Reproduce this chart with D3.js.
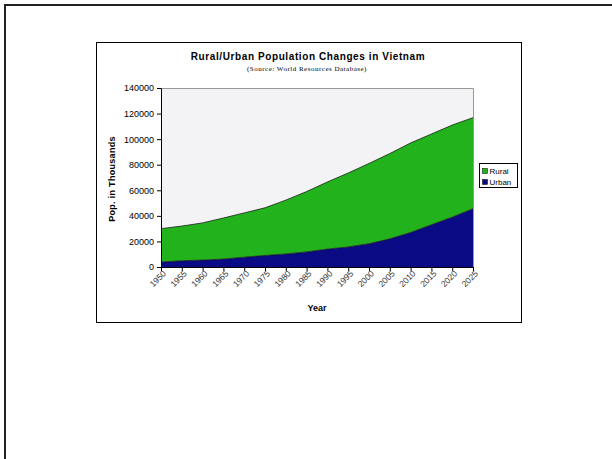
<!DOCTYPE html>
<html>
<head>
<meta charset="utf-8">
<script src="https://cdn.jsdelivr.net/npm/d3@7"></script>
<style>
  body { margin: 0; background: #fff; }
  svg { display: block; font-family: "Liberation Sans", Arial, sans-serif; }
</style>
</head>
<body>
<svg id="chart" width="612" height="459"></svg>
<script>
// values, thousands of people
const years = [1950, 1955, 1960, 1965, 1970, 1975, 1980, 1985, 1990, 1995, 2000, 2005, 2010, 2015, 2020, 2025];
const urban = [3900, 4900, 5400, 6200, 7700, 9000, 10200, 11800, 14000, 15700, 18200, 22000, 27000, 33000, 39000, 45600];
const total = [30000, 32000, 34500, 38300, 42300, 46300, 52300, 59000, 66500, 73500, 81000, 88700, 97000, 104000, 111000, 116800];
const rural = total.map((t, i) => t - urban[i]);
const yTicks = [0, 20000, 40000, 60000, 80000, 100000, 120000, 140000];
const seriesNames = ['Rural', 'Urban'];
const seriesColors = { Rural: '#22b31c', Urban: '#0a0a84' };

const svg = d3.select('#chart');

const DIM = { left: 161, right: 473, top: 88, bottom: 267 };

// page frame (top and left edges only)
svg.append('line').attr('x1', 4).attr('x2', 612).attr('y1', 5).attr('y2', 5)
  .attr('stroke', '#222').attr('stroke-width', 2);
svg.append('line').attr('x1', 5).attr('x2', 5).attr('y1', 4).attr('y2', 459)
  .attr('stroke', '#222').attr('stroke-width', 2);

// chart box
svg.append('rect').attr('x', 96.5).attr('y', 42.5).attr('width', 425).attr('height', 280)
  .attr('fill', '#fff').attr('stroke', '#000').attr('stroke-width', 1);

const xScale = d3.scaleLinear()
  .domain([1950, 2025])
  .range([DIM.left, DIM.right]);

const yScale = d3.scaleLinear()
  .domain([0, 140000])
  .range([DIM.bottom, DIM.top]);

// plot background
svg.append('rect')
  .attr('x', DIM.left).attr('y', DIM.top)
  .attr('width', DIM.right - DIM.left).attr('height', DIM.bottom - DIM.top)
  .attr('fill', '#f3f3f5');
svg.append('path')
  .attr('d', `M${DIM.left},${DIM.top + 0.5}H${DIM.right + 0.5}V${DIM.bottom}`)
  .attr('fill', 'none').attr('stroke', '#999').attr('stroke-width', 1);

const table = years.map((y, i) => ({ year: y, Urban: urban[i], Rural: rural[i] }));
const stacked = d3.stack().keys(['Urban', 'Rural'])(table);

const area = d3.area()
  .x((d) => xScale(d.data.year))
  .y0((d) => yScale(d[0]))
  .y1((d) => yScale(d[1]));

const line = d3.line()
  .x((d) => xScale(d.data.year))
  .y((d) => yScale(d[1]));

svg.append('g').attr('id', 'areas')
  .selectAll('path')
  .data(stacked)
  .join('path')
  .attr('d', area)
  .attr('fill', (s) => seriesColors[s.key]);

svg.append('g').attr('id', 'edges')
  .selectAll('path')
  .data(stacked)
  .join('path')
  .attr('d', line)
  .attr('fill', 'none')
  .attr('stroke', '#1a1a1a')
  .attr('stroke-width', 0.8);

// y axis
const yAxis = svg.append('g')
  .attr('transform', `translate(${DIM.left},0)`)
  .call(d3.axisLeft(yScale).tickValues(yTicks).tickFormat(d3.format('d')).tickSize(4).tickPadding(3));
yAxis.selectAll('text').attr('font-size', 9).attr('fill', '#000');
yAxis.selectAll('line, path').attr('stroke', '#000');

// x axis
const xAxis = svg.append('g')
  .attr('transform', `translate(0,${DIM.bottom})`)
  .call(d3.axisBottom(xScale).tickValues(years).tickFormat(d3.format('d')).tickSize(4).tickSizeOuter(0));
xAxis.selectAll('line, path').attr('stroke', '#000');
xAxis.selectAll('text')
  .attr('font-size', 8.5)
  .attr('fill', '#333')
  .attr('text-anchor', 'end')
  .attr('transform', 'translate(3,5) rotate(-45)')
  .attr('dy', '0.35em')
  .attr('y', 0)
  .attr('x', 0);

// titles
svg.append('text')
  .attr('x', 308).attr('y', 60)
  .attr('text-anchor', 'middle')
  .attr('font-size', 10).attr('font-weight', 'bold')
  .attr('letter-spacing', 0.6)
  .text('Rural/Urban Population Changes in Vietnam');
svg.append('text')
  .attr('x', 307).attr('y', 71)
  .attr('text-anchor', 'middle')
  .attr('font-size', 7).attr('font-family', '"Liberation Serif", serif')
  .attr('letter-spacing', 0.5)
  .text('(Source: World Resources Database)');

svg.append('text')
  .attr('transform', 'translate(115,179) rotate(-90)')
  .attr('text-anchor', 'middle')
  .attr('font-size', 9).attr('font-weight', 'bold')
  .attr('letter-spacing', 0.3)
  .text('Pop. in Thousands');

svg.append('text')
  .attr('x', 317).attr('y', 311)
  .attr('text-anchor', 'middle')
  .attr('font-size', 9).attr('font-weight', 'bold')
  .text('Year');

// legend
const legend = svg.append('g').attr('transform', 'translate(479.5,163.5)');
legend.append('rect').attr('width', 38).attr('height', 24)
  .attr('fill', '#fff').attr('stroke', '#000').attr('stroke-width', 1);
legend.selectAll('g.item')
  .data(seriesNames)
  .join('g')
  .attr('class', 'item')
  .attr('transform', (d, i) => `translate(3,${5 + i * 11})`)
  .call((g) => {
    g.append('rect').attr('width', 5).attr('height', 5)
      .attr('fill', (d) => seriesColors[d]).attr('stroke', '#000').attr('stroke-width', 0.5);
    g.append('text').attr('x', 7).attr('y', 5.5)
      .attr('font-size', 8).text((d) => d);
  });
</script>
</body>
</html>
